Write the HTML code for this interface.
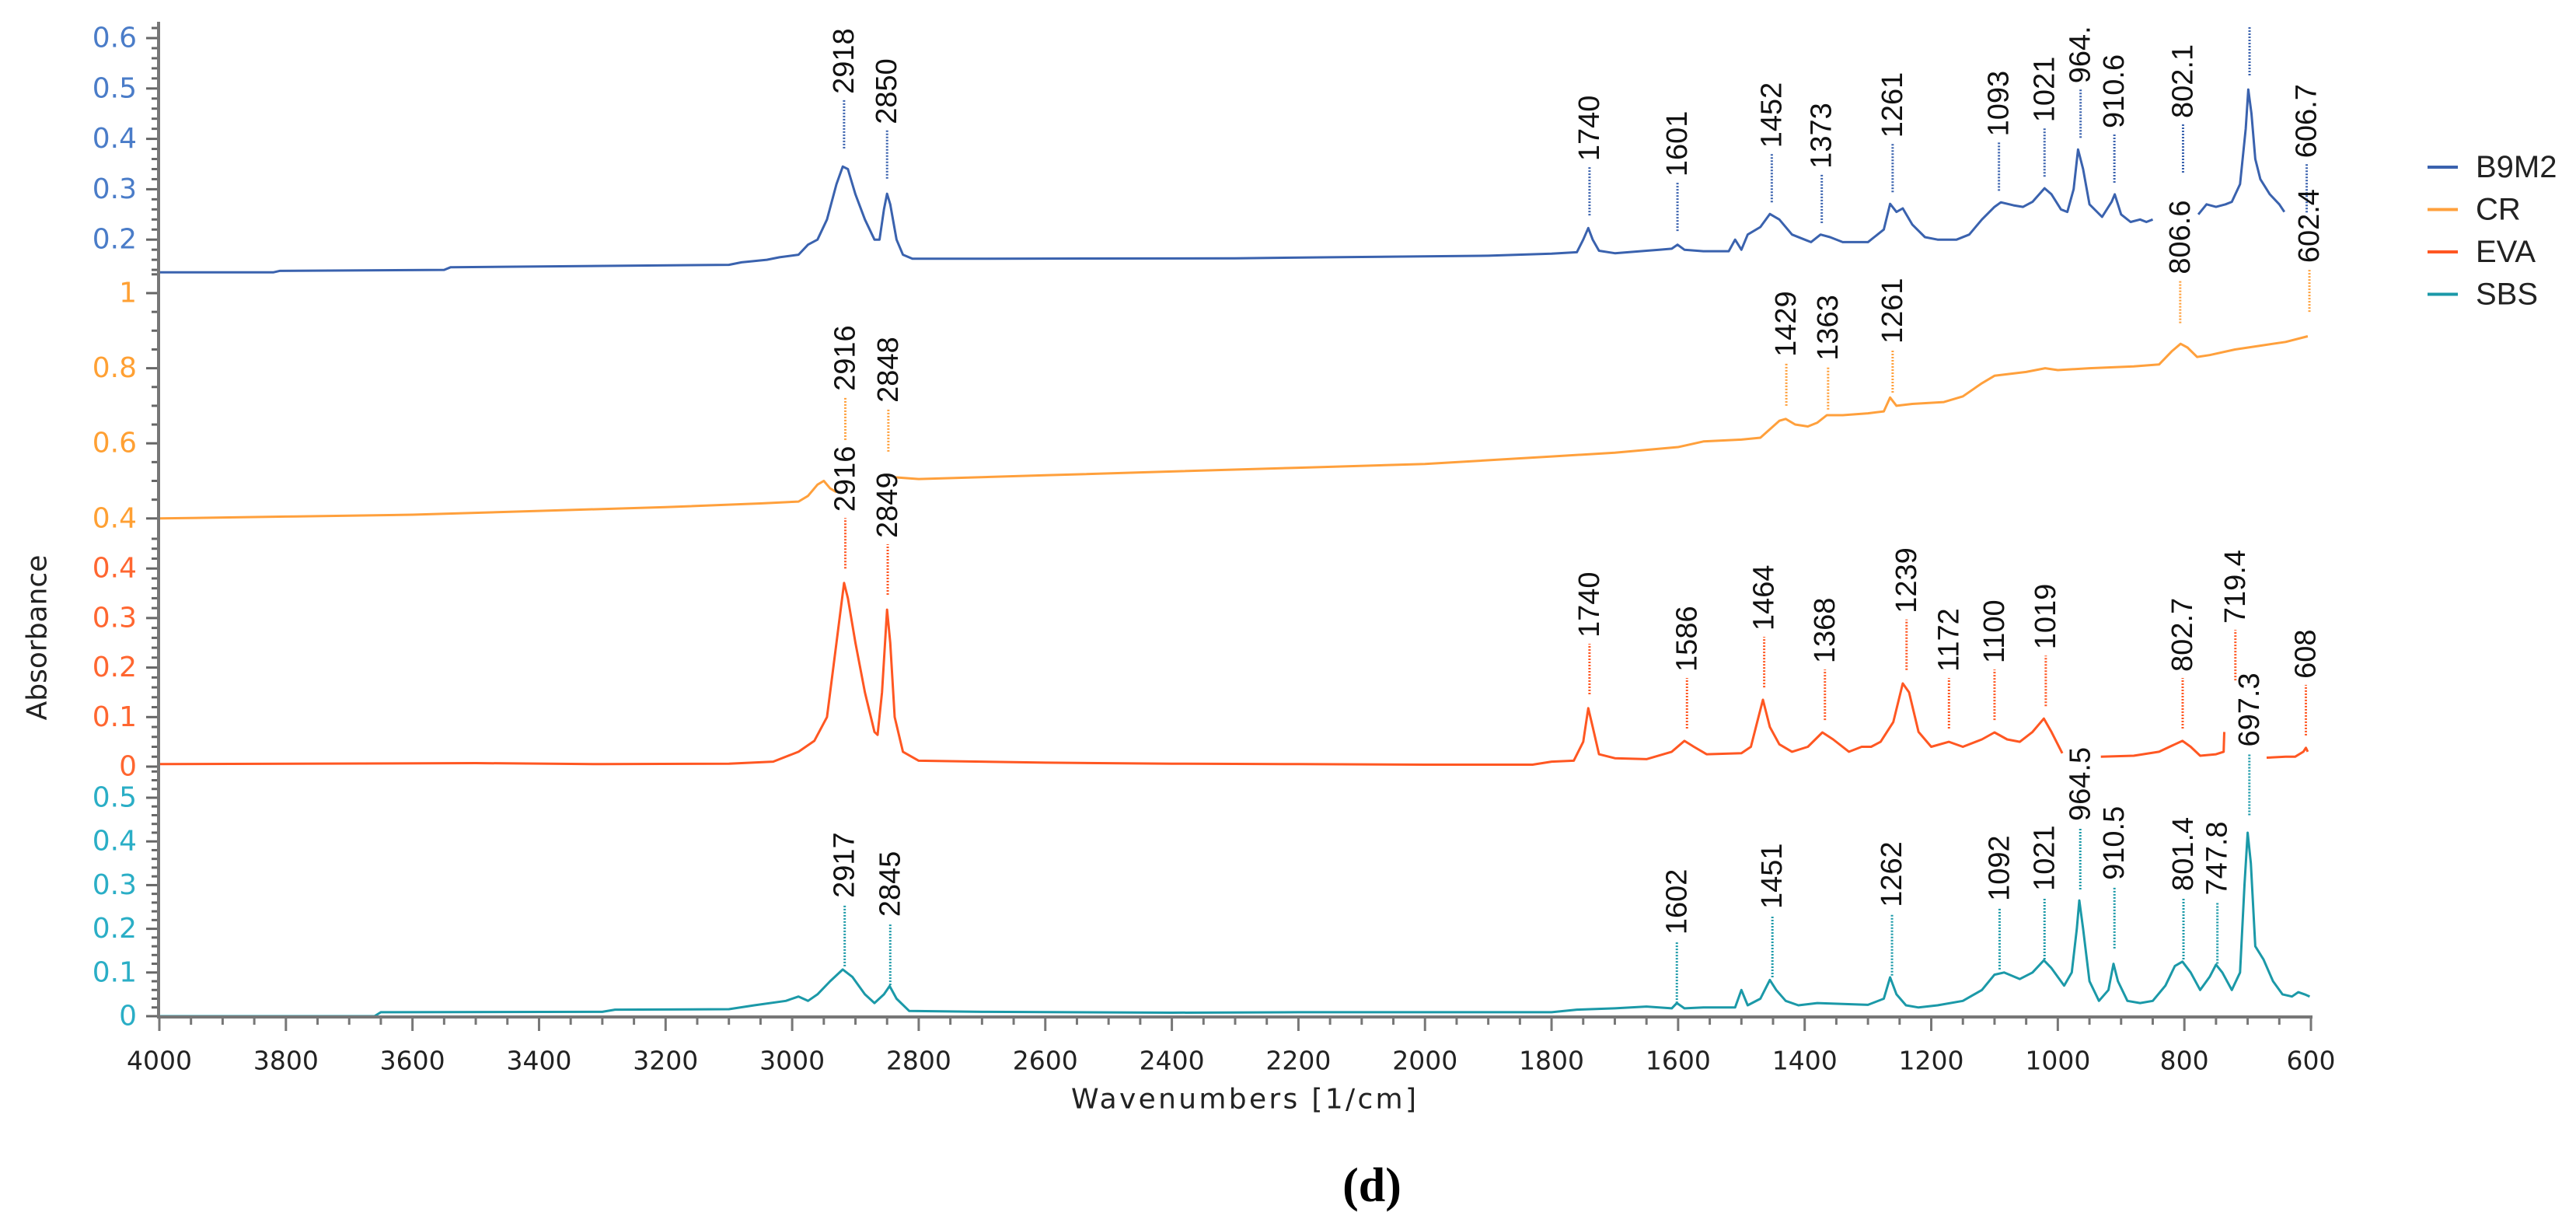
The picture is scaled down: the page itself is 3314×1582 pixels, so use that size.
<!DOCTYPE html>
<html><head><meta charset="utf-8">
<style>
html,body{margin:0;padding:0;background:#fff;}
svg{display:block;}
</style></head>
<body>
<svg id="chart" width="3314" height="1582" viewBox="0 0 3314 1582" xmlns="http://www.w3.org/2000/svg">
</svg>
<script>
// ---------- data ----------
const xTicks = [4000,3800,3600,3400,3200,3000,2800,2600,2400,2200,2000,1800,1600,1400,1200,1000,800,600];
const seriesNames = ["B9M2","CR","EVA","SBS"];

const b9m2Wn = [4000,3820,3810,3550,3540,3100,3080,3040,3020,2990,2975,2960,2945,2930,2920,2912,2900,2885,2870,2862,2855,2850,2845,2835,2825,2810,2700,2300,2150,1900,1800,1760,1750,1742,1735,1725,1700,1650,1630,1610,1601,1590,1560,1520,1510,1500,1490,1470,1455,1440,1420,1400,1390,1375,1360,1340,1300,1275,1265,1255,1245,1230,1210,1190,1160,1140,1120,1100,1090,1070,1055,1040,1021,1010,995,985,975,968,960,950,930,915,910,900,885,870,860,850,null,778,765,750,735,725,712,703,699,694,688,680,665,650,642];
const b9m2Abs = [.135,.135,.138,.14,.145,.15,.155,.16,.165,.17,.19,.2,.24,.31,.345,.34,.29,.24,.2,.2,.26,.291,.27,.2,.17,.162,.162,.163,.165,.168,.172,.175,.2,.223,.2,.178,.173,.178,.18,.182,.19,.18,.177,.177,.2,.18,.21,.225,.251,.24,.21,.2,.195,.21,.205,.195,.195,.22,.271,.255,.262,.23,.205,.2,.2,.21,.24,.265,.274,.268,.265,.275,.302,.29,.26,.255,.3,.379,.34,.27,.245,.275,.29,.25,.235,.24,.235,.24,null,.25,.27,.265,.27,.275,.31,.42,.498,.45,.36,.32,.29,.27,.255];

const crWn = [4000,3800,3600,3400,3200,3050,2990,2975,2960,2950,2940,2930,null,2840,2800,2600,2400,2200,2000,1800,1700,1600,1560,1500,1470,1440,1430,1415,1395,1380,1365,1340,1300,1275,1265,1255,1230,1180,1150,1120,1100,1050,1020,1000,950,880,840,820,806,795,780,760,720,680,640,605];
const crAbs = [.40,.405,.41,.42,.43,.44,.445,.46,.49,.50,.48,.47,null,.51,.505,.515,.525,.535,.545,.565,.575,.59,.605,.61,.615,.66,.665,.65,.645,.655,.675,.675,.68,.685,.722,.70,.705,.71,.725,.76,.78,.79,.80,.795,.80,.805,.81,.845,.865,.855,.83,.835,.85,.86,.87,.885];

const evaWn = [4000,3500,3300,3100,3030,2990,2965,2945,2930,2918,2912,2900,2885,2870,2865,2858,2850,2845,2838,2825,2800,2600,2400,2200,2000,1830,1800,1765,1750,1742,1735,1725,1700,1650,1610,1590,1575,1555,1500,1485,1475,1466,1455,1440,1420,1395,1372,1355,1330,1310,1295,1280,1260,1245,1235,1220,1200,1172,1150,1120,1100,1080,1060,1040,1022,1010,993,null,932,880,840,815,803,790,775,750,738,737,null,670,640,625,612,608,605];
const evaAbs = [.005,.007,.005,.006,.01,.03,.052,.1,.25,.371,.34,.25,.15,.07,.064,.15,.317,.25,.1,.03,.012,.008,.006,.005,.004,.004,.01,.012,.05,.118,.08,.025,.017,.015,.03,.052,.04,.025,.027,.04,.09,.135,.08,.045,.03,.04,.069,.055,.03,.04,.04,.05,.09,.168,.15,.07,.04,.05,.04,.055,.069,.055,.05,.07,.097,.07,.027,null,.02,.022,.03,.045,.052,.04,.022,.025,.03,.07,null,.018,.02,.02,.03,.038,.03];

const sbsWn = [4000,3660,3650,3300,3280,3100,3060,3010,2990,2975,2960,2940,2920,2905,2885,2870,2855,2846,2835,2815,2700,2400,2200,1800,1760,1700,1650,1610,1602,1590,1560,1510,1500,1490,1470,1455,1445,1430,1410,1380,1340,1300,1275,1265,1255,1240,1220,1190,1150,1120,1100,1085,1060,1040,1022,1010,990,978,970,966,960,950,935,920,912,905,890,870,850,830,815,803,790,775,760,750,740,725,712,705,700,695,688,675,660,645,630,620,610,602];
const sbsAbs = [0,0,.009,.01,.015,.016,.025,.035,.045,.035,.05,.08,.107,.09,.05,.03,.05,.069,.04,.012,.01,.008,.009,.009,.015,.018,.022,.018,.03,.018,.02,.02,.06,.025,.04,.083,.06,.035,.025,.03,.028,.026,.04,.089,.05,.025,.02,.025,.035,.06,.095,.10,.085,.1,.128,.11,.07,.1,.2,.265,.2,.08,.035,.06,.12,.08,.035,.03,.035,.07,.115,.125,.1,.06,.09,.118,.1,.06,.1,.3,.42,.35,.16,.13,.08,.05,.045,.055,.05,.045];

// peak labels: wavenumber, printed text, absorbance at leader tip
const b9m2LabelWn = [2918,2850,1740,1601,1452,1373,1261,1093,1021,964,910.6,802.1,697,606.7];
const b9m2LabelText = ["2918","2850","1740","1601","1452","1373","1261","1093","1021","964.","910.6","802.1","","606.7"];
const b9m2LabelTip = [.381,.321,.248,.217,.274,.233,.294,.297,.325,.402,.313,.333,.526,.254];

const crLabelWn = [2916,2848,1429,1363,1261,806.6,602.4];
const crLabelText = ["2916","2848","1429","1363","1261","806.6","602.4"];
const crLabelTip = [.609,.578,.70,.69,.735,.92,.95];

const evaLabelWn = [2916,2849,1740,1586,1464,1368,1239,1172,1100,1019,802.7,719.4,608];
const evaLabelText = ["2916","2849","1740","1586","1464","1368","1239","1172","1100","1019","802.7","719.4","608"];
const evaLabelTip = [.40,.347,.146,.077,.16,.094,.195,.077,.094,.122,.077,.174,.063];

const sbsLabelWn = [2917,2845,1602,1451,1262,1092,1021,964.5,910.5,801.4,747.8,697.3];
const sbsLabelText = ["2917","2845","1602","1451","1262","1092","1021","964.5","910.5","801.4","747.8","697.3"];
const sbsLabelTip = [.114,.071,.03,.089,.093,.107,.13,.29,.155,.13,.12,.46];

// y tick labels per panel
const b9m2Ticks = [0.2,0.3,0.4,0.5,0.6];
const crTicks = [0.4,0.6,0.8,1];
const evaTicks = [0,0.1,0.2,0.3,0.4];
const sbsTicks = [0,0.1,0.2,0.3,0.4,0.5];

// ---------- layout ----------
const NS = "http://www.w3.org/2000/svg";
const svg = document.getElementById("chart");
const X0 = 205, X1 = 2973, W0 = 4000, W1 = 600;
const xS = w => X0 + (W0 - w) * (X1 - X0) / (W0 - W1);

const panels = [
  {key:"b9m2", color:"#3a62ae", tickColor:"#4a7cc8", yS:v=>49+(0.6-v)*648, lo:0.14, hi:0.62, minor:0.02, ticks:b9m2Ticks, wn:b9m2Wn, ab:b9m2Abs, lw:b9m2LabelWn, lt:b9m2LabelText, lp:b9m2LabelTip, lead:62},
  {key:"cr", color:"#ffa03c", tickColor:"#ffa033", yS:v=>377+(1-v)*483, lo:0.4, hi:1.05, minor:0.05, ticks:crTicks, wn:crWn, ab:crAbs, lw:crLabelWn, lt:crLabelText, lp:crLabelTip, lead:55},
  {key:"eva", color:"#ff5722", tickColor:"#ff6630", yS:v=>986-v*637, lo:0, hi:0.46, minor:0.02, ticks:evaTicks, wn:evaWn, ab:evaAbs, lw:evaLabelWn, lt:evaLabelText, lp:evaLabelTip, lead:65},
  {key:"sbs", color:"#1b99a8", tickColor:"#2aaec6", yS:v=>1307-v*562, lo:0, hi:0.56, minor:0.02, ticks:sbsTicks, wn:sbsWn, ab:sbsAbs, lw:sbsLabelWn, lt:sbsLabelText, lp:sbsLabelTip, lead:80}
];

function mk(tag, attrs, parent){
  const el = document.createElementNS(NS, tag);
  for (const k in attrs) el.setAttribute(k, attrs[k]);
  (parent || svg).appendChild(el);
  return el;
}

panels.forEach((p, i) => {
  let d = "", pen = false;
  for (let j = 0; j < p.wn.length; j++) {
    if (p.wn[j] === null) { pen = false; continue; }
    d += (pen ? "L" : "M") + xS(p.wn[j]).toFixed(1) + " " + p.yS(p.ab[j]).toFixed(1) + " ";
    pen = true;
  }
  const path = mk("path", {d:d, fill:"none", stroke:p.color, "stroke-width":3, "stroke-linejoin":"round"});
  
  

  for (let j = 0; j < p.lw.length; j++) {
    const x = xS(p.lw[j]);
    const yb = p.yS(p.lp[j]);
    const yt = yb - p.lead;
    const ld = mk("line", {x1:x, y1:yb, x2:x, y2:yt, stroke:p.color, "stroke-width":3, "stroke-dasharray":"2 2"});
    
    
    if (p.lt[j] !== "") {
      const t = mk("text", {x:0, y:0, transform:"translate(" + x + "," + (yt - 8) + ") rotate(-90)", "font-family":"Liberation Sans, Arial, sans-serif", "font-size":38, fill:"#111", "dominant-baseline":"central"});
      t.textContent = p.lt[j];
      
      
    }
  }

  const n0 = Math.ceil(p.lo / p.minor - 1e-6), n1 = Math.floor(p.hi / p.minor + 1e-6);
  for (let n = n0; n <= n1; n++) {
    const v = n * p.minor;
    const y = p.yS(v);
    const major = p.ticks.some(t => Math.abs(t - v) < 1e-6);
    const tk = mk("line", {x1:204 - (major ? 16 : 9), y1:y, x2:204, y2:y, stroke:"#666", "stroke-width":3});
    
    
  }
  p.ticks.forEach(v => {
    const t = mk("text", {x:176, y:p.yS(v), "text-anchor":"end", "dominant-baseline":"central", "font-family":"DejaVu Sans, Verdana, sans-serif", "font-size":36, fill:p.tickColor});
    t.textContent = String(v);
    
    
  });

  const ly = 215 + i * 54.5;
  const ll = mk("line", {x1:3123, y1:ly, x2:3162, y2:ly, stroke:p.color, "stroke-width":4});
  
  
  const lt = mk("text", {x:3185, y:ly, "dominant-baseline":"central", "font-family":"Liberation Sans, Arial, sans-serif", "font-size":40, fill:"#222"});
  lt.textContent = seriesNames[i];
  
  
});

const ya = mk("line", {x1:204, y1:28, x2:204, y2:1309, stroke:"#777", "stroke-width":4});


const xa = mk("line", {x1:202, y1:1308, x2:2975, y2:1308, stroke:"#777", "stroke-width":4});



for (let w = 4000; w >= 600; w -= 50) {
  const major = w % 200 === 0;
  const tk = mk("line", {x1:xS(w), y1:1308, x2:xS(w), y2:1308 + (major ? 18 : 10), stroke:"#777", "stroke-width":3});
  
  
}
xTicks.forEach(w => {
  const t = mk("text", {x:xS(w), y:1364, "text-anchor":"middle", "dominant-baseline":"central", "font-family":"DejaVu Sans, Verdana, sans-serif", "font-size":33, fill:"#222"});
  t.textContent = String(w);
  
  
});

const xt = mk("text", {x:1600, y:1414, "text-anchor":"middle", "dominant-baseline":"central", "font-family":"DejaVu Sans, Verdana, sans-serif", "font-size":36, fill:"#222", textLength:444});
xt.textContent = "Wavenumbers [1/cm]";



const yt = mk("text", {x:0, y:0, transform:"translate(48,820) rotate(-90)", "text-anchor":"middle", "dominant-baseline":"central", "font-family":"DejaVu Sans, Verdana, sans-serif", "font-size":36, fill:"#222"});
yt.textContent = "Absorbance";



const cap = mk("text", {x:1765, y:1525, "text-anchor":"middle", "dominant-baseline":"central", "font-family":"Liberation Serif, Times New Roman, serif", "font-size":62, "font-weight":"bold", fill:"#000"});
cap.textContent = "(d)";


</script>
</body></html>
